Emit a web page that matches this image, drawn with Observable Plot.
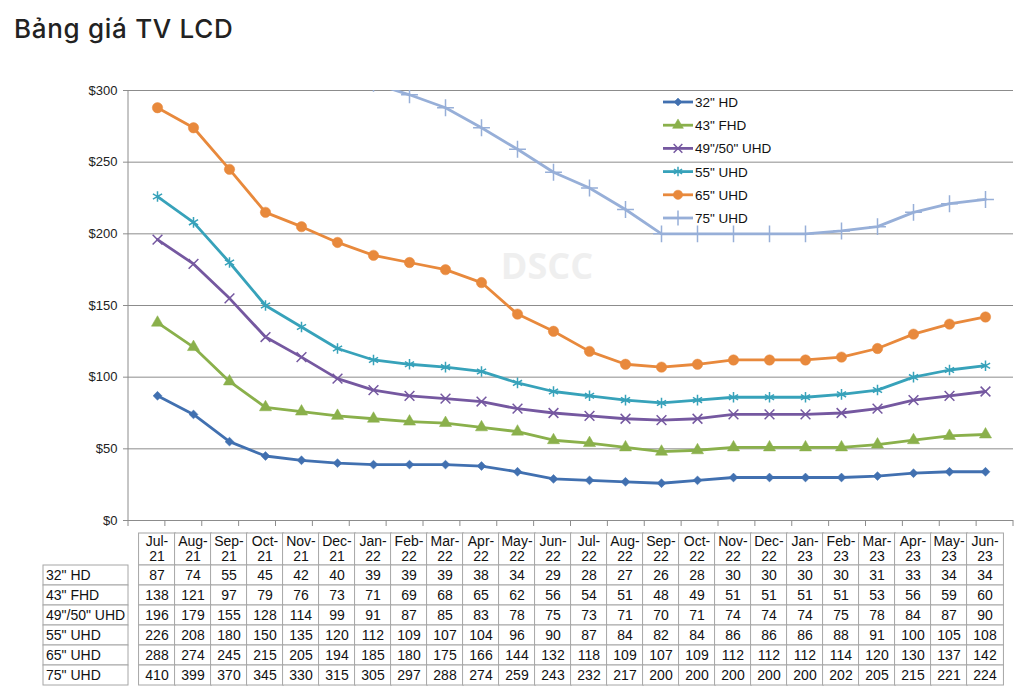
<!DOCTYPE html>
<html><head><meta charset="utf-8">
<script src="https://cdn.jsdelivr.net/npm/d3@7"></script>
<script src="https://cdn.jsdelivr.net/npm/@observablehq/plot@0.6"></script>
<style>
html,body{margin:0;padding:0;background:#fff}
body{width:1028px;height:700px;overflow:hidden;position:relative;font-family:"Liberation Sans",Arial,sans-serif}
#title{position:absolute;left:14px;top:13px;font-family:Inter,"Open Sans",sans-serif;font-size:26px;font-weight:500;color:#222;letter-spacing:0.7px}
#chart{position:absolute;left:0;top:0}
</style></head><body>
<div id="chart"></div>
<div id="title">Bảng giá TV LCD</div>
<script>
const months = ["Jul-21","Aug-21","Sep-21","Oct-21","Nov-21","Dec-21","Jan-22","Feb-22","Mar-22","Apr-22","May-22","Jun-22","Jul-22","Aug-22","Sep-22","Oct-22","Nov-22","Dec-22","Jan-23","Feb-23","Mar-23","Apr-23","May-23","Jun-23"];
const seriesNames = ['32" HD','43" FHD','49"/50" UHD','55" UHD','65" UHD','75" UHD'];
const s32 = [87,74,55,45,42,40,39,39,39,38,34,29,28,27,26,28,30,30,30,30,31,33,34,34];
const s43 = [138,121,97,79,76,73,71,69,68,65,62,56,54,51,48,49,51,51,51,51,53,56,59,60];
const s49 = [196,179,155,128,114,99,91,87,85,83,78,75,73,71,70,71,74,74,74,75,78,84,87,90];
const s55 = [226,208,180,150,135,120,112,109,107,104,96,90,87,84,82,84,86,86,86,88,91,100,105,108];
const s65 = [288,274,245,215,205,194,185,180,175,166,144,132,118,109,107,109,112,112,112,114,120,130,137,142];
const s75 = [410,399,370,345,330,315,305,297,288,274,259,243,232,217,200,200,200,200,200,202,205,215,221,224];
const seriesValues = [s32, s43, s49, s55, s65, s75];
const yTicks = [0,50,100,150,200,250,300];

const colors = ["#4170b0","#8ab04b","#7558a0","#37a2ba","#e8893c","#97afd8"];
const symbols = ["diamond2","triangle","times","asterisk","circle","plus"];
const radii = [4,4.5,4.5,5,5.2,5.5];
const filled = [true,true,false,false,true,false];

const data = seriesNames.flatMap((s,i) => months.map((m,j) => ({series:s, month:m, value:seriesValues[i][j]})));

const seriesMarks = seriesNames.flatMap((s,i) => {
  const d = data.filter(e => e.series === s);
  return [
    Plot.line(d, {x:"month", y:"value", stroke:colors[i], strokeWidth:2.8, clip:true}),
    Plot.dot(d, {x:"month", y:"value", symbol:()=>symbols[i], r:radii[i],
      fill: filled[i] ? colors[i] : "none", stroke: colors[i], strokeWidth: filled[i] ? 0.5 : 1.5, clip:true})
  ];
});

function frameParts(I, scales, V, dims) {
  const g = d3.create("svg:g");
  const step = (dims.width - dims.marginLeft - dims.marginRight) / months.length;
  const yb = scales.y(0), yt = scales.y(300);
  g.append("text").attr("x", scales.x("May-22") + 30).attr("y", scales.y(175))
    .attr("text-anchor","middle").attr("dominant-baseline","middle")
    .attr("font-size", 36).attr("font-weight","bold").attr("fill","#efefef")
    .attr("font-family","'Open Sans',sans-serif").text("DSCC");
  g.append("line").attr("x1", dims.marginLeft).attr("x2", dims.marginLeft)
    .attr("y1", yt).attr("y2", yb).attr("stroke","#8c8c8c");
  months.concat([null]).forEach((m,j) => {
    const x = dims.marginLeft + j*step;
    g.append("line").attr("x1", x).attr("x2", x).attr("y1", yb).attr("y2", yb + 6).attr("stroke","#8c8c8c");
  });
  return g.node();
}

function tablePart(I, scales, V, dims) {
  const g = d3.create("svg:g").attr("font-family","'Liberation Sans',Arial,sans-serif").attr("font-size",14).attr("fill","#111");
  const step = (dims.width - dims.marginLeft - dims.marginRight) / months.length;
  const hdrTop = 533, rowTop = 565, tableBottom = 685, labelLeft = 43;
  const yRow = d3.scaleBand(seriesNames, [rowTop, tableBottom]);
  const border = "#a6a6a6";
  months.forEach((m,j) => {
    const x0 = scales.x(m) - step/2;
    g.append("rect").attr("x", x0).attr("y", hdrTop).attr("width", step).attr("height", rowTop - hdrTop)
      .attr("fill","#fff").attr("stroke", border);
    const [a,b] = m.split("-");
    g.append("text").attr("x", scales.x(m)).attr("y", hdrTop + 13).attr("text-anchor","middle").text(a + "-");
    g.append("text").attr("x", scales.x(m)).attr("y", hdrTop + 28).attr("text-anchor","middle").text(b);
  });
  seriesNames.forEach((s,i) => {
    const y0 = yRow(s), h = yRow.bandwidth();
    g.append("rect").attr("x", labelLeft).attr("y", y0).attr("width", dims.marginLeft - labelLeft).attr("height", h)
      .attr("fill","#fff").attr("stroke", border);
    g.append("text").attr("x", labelLeft + 3).attr("y", y0 + h/2 + 5).attr("text-anchor","start").text(s);
    months.forEach((m,j) => {
      g.append("rect").attr("x", scales.x(m) - step/2).attr("y", y0).attr("width", step).attr("height", h)
        .attr("fill","#fff").attr("stroke", border);
      g.append("text").attr("x", scales.x(m)).attr("y", y0 + h/2 + 5).attr("text-anchor","middle").text(seriesValues[i][j]);
    });
  });
  return g.node();
}

function legendPart(I, scales, V, dims) {
  const g = d3.create("svg:g").attr("font-family","'Liberation Sans',Arial,sans-serif").attr("font-size",13.5).attr("fill","#111");
  const symMap = {diamond2:d3.symbolDiamond2, triangle:d3.symbolTriangle, times:d3.symbolTimes, asterisk:d3.symbolAsterisk, circle:d3.symbolCircle, plus:d3.symbolPlus};
  const lx0 = 663, lx1 = 693, ly0 = 102, gap = 23.2;
  seriesNames.forEach((s,i) => {
    const y = ly0 + i*gap;
    g.append("line").attr("x1", lx0).attr("x2", lx1).attr("y1", y).attr("y2", y).attr("stroke", colors[i]).attr("stroke-width", 2.8);
    g.append("path").attr("transform", `translate(${(lx0+lx1)/2},${y})`)
      .attr("d", d3.symbol(symMap[symbols[i]], Math.PI * radii[i] * radii[i] * 0.8)())
      .attr("fill", filled[i] ? colors[i] : "none").attr("stroke", colors[i]).attr("stroke-width", filled[i] ? 0.5 : 1.5);
    g.append("text").attr("x", lx1 + 2).attr("y", y + 5).attr("text-anchor","start").text(s);
  });
  return g.node();
}

const chart = Plot.plot({
  width: 1028,
  height: 700,
  marginTop: 90,
  marginBottom: 180,
  marginLeft: 128,
  marginRight: 15,
  style: {fontFamily: "'Liberation Sans',Arial,sans-serif", fontSize: "13px", color: "#222", background: "#fff"},
  x: {type: "point", domain: months, padding: 0.5, axis: null},
  y: {domain: [0, 300], axis: null},
  marks: [
    frameParts,
    Plot.ruleY(yTicks, {stroke: "#8c8c8c", strokeWidth: 1}),
    Plot.axisY(yTicks, {tickSize: 5, tickPadding: 6, stroke: "#8c8c8c", fill: "#222", tickFormat: d => "$" + d, fontSize: 13, label: null}),
    ...seriesMarks,
    legendPart,
    tablePart
  ]
});
document.getElementById("chart").appendChild(chart);
</script>
</body></html>
